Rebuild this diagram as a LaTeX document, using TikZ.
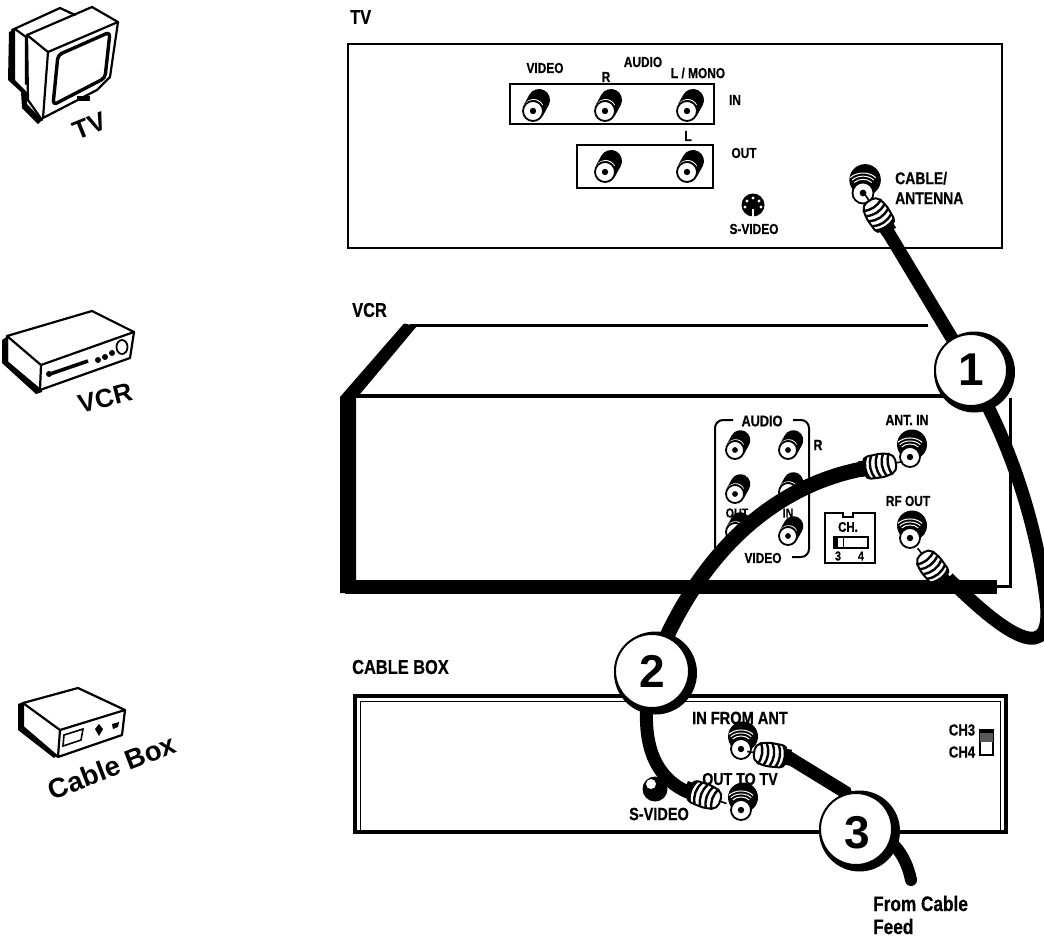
\documentclass[tikz,border=0pt]{standalone}
\usepackage{fontspec}
\setmainfont{Liberation Sans}
\newfontfamily\narrowbold[FakeStretch=0.82,FakeBold=0.6]{Liberation Sans Bold}
\newfontfamily\iconfont{Liberation Sans Bold}
\newcommand\rcajack[3]{%
  \draw[black,line width={2.2*#3},line cap=round] (#1+0.6*#3,#2-1.1*#3) -- (#1+0.1*#3,#2-0.2*#3);
  \draw[white,line width=1] (#1-0.95*#3,#2-0.35*#3) .. controls (#1-0.7*#3,#2-1.25*#3) and (#1+0.5*#3,#2-1.45*#3) .. (#1+0.95*#3,#2-0.6*#3);
  \draw[black,fill=white,line width=1.8] (#1,#2) circle (#3);
  \fill[black] (#1,#2) circle ({0.32*#3});
}
\newcommand\coaxjack[3]{%
  \fill[black] (#1+0.2*#3,#2-1.25*#3) circle ({1.5*#3});
  \foreach \rr in {1.3,1.6,1.9}{
    \draw[white,line width=1] (#1+\rr*#3*0.64,#2-\rr*#3*0.77) .. controls (#1+\rr*#3*0.3,#2-\rr*#3*1.08) and (#1-\rr*#3*0.3,#2-\rr*#3*1.08) .. (#1-\rr*#3*0.64,#2-\rr*#3*0.77);}
  \draw[black,fill=white,line width=1.8] (#1,#2) circle (#3);
  \fill[black] (#1,#2) circle ({0.32*#3});
}
\newcommand\coaxhead[3]{%
  \begin{scope}[shift={(#1,#2)},rotate=#3]
    \draw[black,line width=1.6] (-25,0) -- (-15,0);
    \draw[black,fill=white,line width=2,rounded corners=5] (-18,-8) -- (-6,-12) -- (14,-11) -- (14,11) -- (-6,12) -- (-18,8) -- cycle;
    \foreach \xx in {-13,-7,-1,5,10}{
      \draw[black,line width=2.4] (\xx,-11) .. controls (\xx+4,-4) and (\xx+4,4) .. (\xx,11);}
    \fill[black] (13,-8) rectangle (19,8);
  \end{scope}
}
\newcommand\numdisc[4]{%
  \fill[black] (#1+3.5,#2+2) circle (#3+4.5);
  \node[numcircle,minimum size=#3*2pt] (#4) at (#1,#2) {};
}
\tikzset{
  fs/.style={font=\narrowbold\fontsize{#1}{20}\selectfont},
  lab/.style={fs=14.5,inner sep=0pt,text=black},
  lableft/.style={lab,anchor=west},
  panel/.style={draw=black,line width=2.6,fill=white},
  cable/.style={draw=black,line width=13,line cap=round},
  numcircle/.style={circle,draw=black,line width=2,fill=white,inner sep=0pt},
  numtext/.style={font=\bfseries\fontsize{46}{46}\selectfont,inner sep=0pt},
  icon/.style={draw=black,line width=2.2,line join=round,line cap=round},
  iconlabel/.style={font=\iconfont\fontsize{26}{26}\selectfont,inner sep=0pt},
  iconfill/.style={fill=black,line join=round}
}
\begin{document}
\begin{tikzpicture}[x=1pt,y=-1pt]
\useasboundingbox (0,0) rectangle (1044,937);
\fill[white] (0,0) rectangle (1044,937);

% ---------- TV icon
\fill[iconfill] (9,32) -- (15,29) -- (15,80) -- (27,92) -- (27,104) -- (42,120) -- (38,124) -- (22,108) -- (21,92) -- (8,80) -- cycle;
\draw[icon] (12,30) -- (60,8) -- (75,15);
\draw[icon] (15,29) -- (26,37) -- (26,84);
\draw[icon] (27,35) -- (92,7) -- (118,22) -- (110,77) -- (97,90) -- (43,118) -- (48,52) -- cycle;
\draw[icon] (48,52) -- (118,22);
\draw[icon] (27,35) -- (28,100) -- (42,120);
\draw[icon,line width=3.4,rounded corners=4] (58,55) -- (110,32) -- (105,78) -- (53,105) -- cycle;
\fill[black] (77,96) rectangle (90,101);
\node[iconlabel,rotate=22] (tvicon) at (90,126) {TV};

% ---------- VCR icon
\fill[iconfill] (2,340) -- (8,336) -- (8,362) -- (42,390) -- (42,392) -- (36,394) -- (2,363) -- cycle;
\draw[icon] (7,336) -- (92,311) -- (134,332) -- (41,365) -- cycle;
\draw[icon] (134,332) -- (130,358) -- (40,390) -- (41,365);
\draw[icon] (7,336) -- (7,362) -- (40,390);
\draw[black,line width=3.6] (50,374) -- (88,361);
\fill[black] (49,374) circle (3);
\fill[black] (98,360) circle (3) (105,357) circle (3) (112,353) circle (3);
\draw[black,line width=1.8] (122,347) ellipse (5.5 and 7);
\node[iconlabel,rotate=14] (vcricon) at (105,398) {VCR};

% ---------- Cable Box icon
\fill[iconfill] (18,704) -- (23,702) -- (24,728) -- (56,756) -- (54,758) -- (18,730) -- cycle;
\draw[icon] (23,703) -- (78,688) -- (125,710) -- (60,730) -- cycle;
\draw[icon] (125,710) -- (122,735) -- (58,757) -- (60,730);
\draw[icon] (23,703) -- (23,727) -- (58,757);
\draw[black,line width=1.6] (64,735) -- (83,729) -- (81,740) -- (63,746) -- cycle;
\fill[black] (99,724) -- (103,729) -- (99,736) -- (95,729) -- cycle;
\fill[black] (112,724) -- (119,722) -- (118,727) -- (113,729) -- cycle;
\node[iconlabel,rotate=21,font=\iconfont\fontsize{27.5}{28}\selectfont] (cbicon) at (112,767) {Cable Box};

% ---------- TV panel
\node[lableft,fs=20] (tvtitle) at (350,17) {TV};
\draw[panel] (348,44) rectangle (1002,248);
\draw[black,line width=1.8] (510,84) rectangle (714,124);
\draw[black,line width=1.8] (577,145) rectangle (713,188);
\rcajack{533}{111}{10}
\rcajack{605}{111}{10}
\rcajack{687}{111}{10}
\rcajack{605}{172}{10}
\rcajack{687}{172}{10}
\node[lab] (tvvideo) at (545,68) {VIDEO};
\node[lab] (tvaudio) at (643,62) {AUDIO};
\node[lab] (tvr) at (606,77) {R};
\node[lab] (tvmono) at (698,73) {L / MONO};
\node[lab] (tvin) at (735,100) {IN};
\node[lab] (tvl) at (688,136) {L};
\node[lab] (tvout) at (744,153) {OUT};
\fill[black] (753,205) circle (11.5);
\fill[white] (747,201) circle (1.6) (753,198) circle (1.6) (759,201) circle (1.6) (745,207) circle (1.6) (761,207) circle (1.6);
\fill[white] (752,209) rectangle (754,217);
\node[lab] (tvsv) at (754,229) {S-VIDEO};
\coaxjack{863}{193}{10.5}
\node[lableft,fs=17,align=left] (cablean) at (895,188) {CABLE/\\ANTENNA};

% ---------- VCR
\node[lableft,fs=20] (vcrtitle) at (352,310) {VCR};
\draw[black,line width=3] (410,325) -- (928,325);
\fill[black] (404,323.5) -- (417,326) -- (360,394) -- (356,394) -- (356,593) -- (340,593) -- (340,397) -- cycle;
\draw[black,line width=4] (350,396) -- (1005,396);
\fill[black] (345,579.5) rectangle (997,594);
\draw[black,line width=3] (1010,398) -- (1010,588);
\draw[black,line width=3] (997,586) -- (1010,586);
\draw[black,line width=2,rounded corners=8] (733,420) -- (715,420) -- (715,548);
\draw[black,line width=2,rounded corners=8] (793,420) -- (809,420) -- (809,557) -- (792,557);
\node[lab,fs=15.5] (vaudio) at (762,421) {AUDIO};
\node[lab,fs=15] (vr) at (818,445) {R};
\node[lab,fs=13] (vout) at (737,513) {OUT};
\node[lab,fs=13] (vin) at (788,513) {IN};
\node[lab] (vvideo) at (763,558) {VIDEO};
\rcajack{735}{450}{9}
\rcajack{788}{450}{9}
\rcajack{735}{494}{9}
\rcajack{788}{492}{9}
\rcajack{788}{536}{9}
\rcajack{735}{532}{9}
\draw[black,line width=1.6] (825,513) -- (843,513) -- (843,517) -- (853,517) -- (853,513) -- (875,513) -- (875,563) -- (825,563) -- cycle;
\node[lab,fs=14] (vch) at (848,527) {CH.};
\draw[black,line width=1.5] (834,537) rectangle (868,548);
\fill[black] (834,537) rectangle (838,548);
\draw[black,line width=.8] (843,537) -- (843,548);
\node[lab,fs=13] (vthree) at (838,556) {3};
\node[lab,fs=13] (vfour) at (861,556) {4};
\node[lab,fs=15] (vant) at (907,420) {ANT. IN};
\coaxjack{910}{457}{10}
\node[lab] (vrf) at (908,501) {RF OUT};
\coaxjack{910}{538}{10}

% ---------- Cable box
\node[lableft,fs=20] (cbtitle) at (352,667) {CABLE BOX};
\draw[panel,line width=3.4] (355,696) rectangle (1006,832);
\draw[black,line width=1] (360,701) rectangle (1000,830);
\node[lab,fs=17.8] (cbin) at (740,718) {IN FROM ANT};
\node[lab,fs=17.3] (cbout) at (740,779) {OUT TO TV};
\node[lab,fs=17.7] (cbsv) at (659,814) {S-VIDEO};
\node[lab,fs=16] (cbch3) at (962,730) {CH3};
\node[lab,fs=16] (cbch4) at (962,752) {CH4};
\draw[black,line width=1.3] (980,730) rectangle (993,755);
\fill[black] (980,730) rectangle (993,733);
\fill[black!65] (980,733) rectangle (993,742);
\fill[black] (655,789) circle (12.5);
\fill[white] (651,784) circle (5);
\coaxjack{741}{749}{10}
\coaxjack{741}{810}{10}

% ---------- cables (jack to circle)
\coordinate (ca1) at (888,232);
\coordinate (ca2) at (971,370);
\coordinate (cb1) at (987,405);
\coordinate (cb2) at (948,578);
\coordinate (cc1) at (862,469);
\coordinate (cc2) at (652,671);
\coordinate (cd1) at (690,793);
\coordinate (ce1) at (788,757);
\coordinate (ce2) at (856,829);
\coordinate (ce3) at (911,880);
\draw[cable,line cap=butt] (ca1) -- (ca2);
\draw[cable,line cap=butt] (cb1) .. controls (1010,450) and (1036,520) .. (1046,600)
   .. controls (1054,665) and (1010,640) .. (cb2);
\draw[cable,line cap=butt,line width=15] (cc1) .. controls (780,485) and (700,545) .. (cc2);
\draw[cable,line cap=butt] (cc2) .. controls (640,725) and (645,775) .. (cd1);
\draw[cable,line cap=butt] (ce1) -- (845,792) -- (ce2);
\draw[cable,line width=12] (ce2) .. controls (890,830) and (906,855) .. (ce3);

% ---------- connector heads
\coaxhead{879}{216}{-57}
\coaxhead{878}{466}{190}
\coaxhead{933}{568}{-52}
\coaxhead{703}{795}{160}
\coaxhead{772}{755}{-8}

% ---------- numbered circles
\numdisc{971}{370}{36}{one}
\node[numtext] (onet) at (one) {1};
\numdisc{652}{671}{37}{two}
\node[numtext] (twot) at (two) {2};
\numdisc{856}{829}{36}{three}
\node[numtext] (threet) at (857,833) {3};

\node[lableft,fs=21,align=left] (feed) at (873,915) {From Cable\\[3pt]Feed};
\end{tikzpicture}
\end{document}
